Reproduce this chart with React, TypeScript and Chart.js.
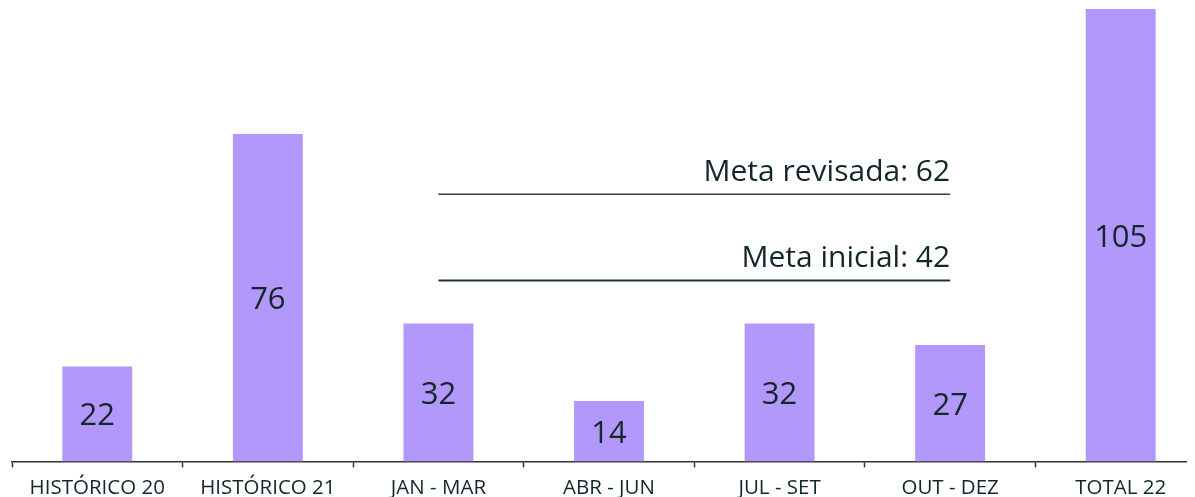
import React, { useEffect, useRef } from "react";
import { Chart, registerables } from "chart.js";

Chart.register(...registerables);

const categories = ["HISTÓRICO 20", "HISTÓRICO 21", "JAN - MAR", "ABR - JUN", "JUL - SET", "OUT - DEZ", "TOTAL 22"];
const values = [22, 76, 32, 14, 32, 27, 105];
const metaInicial = [null, null, 42, 42, 42, 42, null];
const metaRevisada = [null, null, 62, 62, 62, 62, null];
const metaInicialLabel = "Meta inicial: 42";
const metaRevisadaLabel = "Meta revisada: 62";

const TEXT = "#13262b";
const FONT = "'Open Sans', sans-serif";

const labelPlugin = {
  id: "labels",
  afterDatasetsDraw(chart: any) {
    const ctx = chart.ctx;
    ctx.save();
    const meta0 = chart.getDatasetMeta(0);
    ctx.fillStyle = TEXT;
    ctx.font = `31px ${FONT}`;
    ctx.textAlign = "center";
    ctx.textBaseline = "middle";
    meta0.data.forEach((bar: any, i: number) => {
      const y = (bar.y + bar.base) / 2 + 2.5;
      ctx.fillText(String(values[i]), bar.x, y);
    });
    const drawMeta = (dsIndex: number, text: string) => {
      const m = chart.getDatasetMeta(dsIndex);
      const pts = m.data.filter((p: any, i: number) => chart.data.datasets[dsIndex].data[i] != null);
      const last = pts[pts.length - 1];
      ctx.textAlign = "right";
      ctx.textBaseline = "alphabetic";
      ctx.font = `30px ${FONT}`;
      ctx.fillText(text, last.x, last.y - 13);
    };
    drawMeta(1, metaInicialLabel);
    drawMeta(2, metaRevisadaLabel);
    ctx.restore();
  },
};

export default function App() {
  const ref = useRef<HTMLCanvasElement>(null);
  useEffect(() => {
    const chart = new Chart(ref.current!, {
      type: "bar",
      data: {
        labels: categories,
        datasets: [
          {
            type: "bar",
            data: values,
            backgroundColor: "#b398fb",
            barPercentage: 0.41,
            categoryPercentage: 1,
            order: 2,
          } as any,
          {
            type: "line",
            data: metaInicial,
            borderColor: "#1d3336",
            borderWidth: 2,
            pointRadius: 0,
            spanGaps: false,
            order: 1,
          } as any,
          {
            type: "line",
            data: metaRevisada,
            borderColor: "#3a3a3a",
            borderWidth: 1.5,
            pointRadius: 0,
            spanGaps: false,
            order: 1,
          } as any,
        ],
      },
      options: {
        animation: false,
        responsive: true,
        maintainAspectRatio: false,
        layout: { padding: { top: 1, left: 4, right: 0, bottom: 0 } },
        plugins: { legend: { display: false }, tooltip: { enabled: false } },
        scales: {
          x: {
            offset: true,
            grid: {
              display: true,
              drawOnChartArea: false,
              drawTicks: true,
              tickLength: 6,
              tickColor: "#333",
              tickWidth: 1.5,
              offset: true,
            },
            border: { display: true, color: "#333", width: 1.5 },
            ticks: {
              color: TEXT,
              font: { family: FONT, size: 20.5 },
              padding: 8,
              maxRotation: 0,
              autoSkip: false,
            },
          },
          y: {
            display: false,
            min: 0,
            max: 105,
          },
        },
      },
      plugins: [labelPlugin],
    });
    return () => chart.destroy();
  }, []);
  return (
    <div style={{ width: 1187, height: 489, overflow: "hidden" }}>
      <div style={{ position: "relative", width: 1198, height: 500 }}>
        <canvas ref={ref} />
      </div>
    </div>
  );
}
